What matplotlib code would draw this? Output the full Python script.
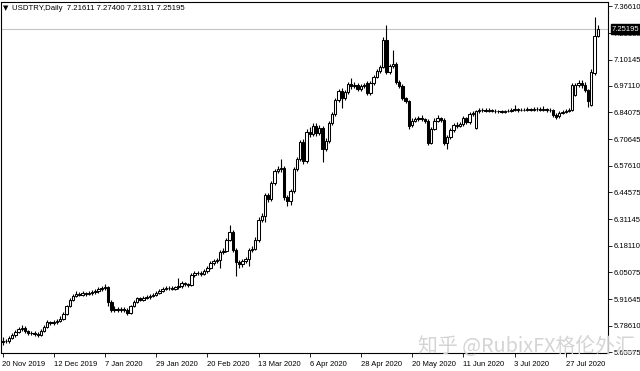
import matplotlib
matplotlib.use('Agg')
import matplotlib.pyplot as plt
import matplotlib.transforms as mtransforms
import numpy as np

plt.rcParams['font.family'] = ['Liberation Sans', 'DejaVu Sans']

title = 'USDTRY,Daily  7.21611 7.27400 7.21311 7.25195'
last_price = 7.25195

# daily OHLC, 20 Nov 2019 .. 10 Aug 2020
opens = [5.705, 5.712, 5.708, 5.726, 5.738, 5.755, 5.768, 5.776, 5.760, 5.752,
         5.748, 5.746, 5.742, 5.762, 5.780, 5.802, 5.798, 5.803, 5.810, 5.820,
         5.845, 5.882, 5.915, 5.934, 5.945, 5.940, 5.946, 5.942, 5.948, 5.951,
         5.956, 5.965, 5.970, 5.976, 5.905, 5.866, 5.870, 5.862, 5.870, 5.866,
         5.850, 5.882, 5.905, 5.921, 5.914, 5.922, 5.926, 5.933, 5.940, 5.948,
         5.958, 5.966, 5.970, 5.973, 5.968, 5.975, 5.980, 5.998, 5.992, 5.988,
         6.035, 6.045, 6.048, 6.042, 6.055, 6.072, 6.095, 6.105, 6.110, 6.150,
         6.156, 6.210, 6.250, 6.160, 6.100, 6.090, 6.105, 6.115, 6.160, 6.165,
         6.210, 6.310, 6.330, 6.430, 6.410, 6.490, 6.550, 6.560, 6.565, 6.420,
         6.400, 6.450, 6.560, 6.610, 6.695, 6.600, 6.745, 6.735, 6.775, 6.740,
         6.765, 6.660, 6.700, 6.790, 6.830, 6.900, 6.948, 6.912, 6.940, 6.980,
         6.970, 6.978, 6.955, 6.970, 6.988, 6.935, 6.985, 7.015, 7.045, 7.065,
         7.200, 7.040, 7.068, 7.080, 6.990, 6.972, 6.910, 6.895, 6.780, 6.800,
         6.806, 6.812, 6.808, 6.800, 6.690, 6.760, 6.800, 6.812, 6.805, 6.690,
         6.720, 6.752, 6.780, 6.775, 6.782, 6.812, 6.792, 6.830, 6.765, 6.845,
         6.850, 6.852, 6.848, 6.850, 6.847, 6.845, 6.846, 6.844, 6.846, 6.848,
         6.852, 6.855, 6.852, 6.854, 6.853, 6.856, 6.853, 6.855, 6.857, 6.854,
         6.856, 6.852, 6.850, 6.828, 6.822, 6.838, 6.842, 6.846, 6.852, 6.928,
         6.975, 6.988, 6.975, 6.950, 6.878, 7.035, 7.21611]
highs = [5.728, 5.722, 5.735, 5.748, 5.765, 5.778, 5.790, 5.782, 5.766, 5.760,
         5.758, 5.755, 5.770, 5.790, 5.812, 5.810, 5.814, 5.820, 5.832, 5.852,
         5.890, 5.925, 5.945, 5.955, 5.952, 5.956, 5.953, 5.958, 5.960, 5.966,
         5.975, 5.980, 5.990, 5.982, 5.912, 5.882, 5.876, 5.880, 5.878, 5.872,
         5.888, 5.912, 5.930, 5.928, 5.932, 5.936, 5.942, 5.950, 5.958, 5.966,
         5.975, 5.980, 5.982, 5.980, 5.984, 6.020, 6.008, 6.004, 5.998, 6.045,
         6.055, 6.058, 6.055, 6.065, 6.080, 6.104, 6.116, 6.122, 6.158, 6.168,
         6.218, 6.285, 6.258, 6.168, 6.110, 6.115, 6.128, 6.168, 6.178, 6.222,
         6.322, 6.345, 6.440, 6.440, 6.500, 6.560, 6.575, 6.610, 6.575, 6.432,
         6.462, 6.572, 6.622, 6.705, 6.710, 6.760, 6.770, 6.790, 6.790, 6.778,
         6.775, 6.712, 6.800, 6.842, 6.912, 6.958, 6.960, 6.952, 6.992, 7.010,
         6.992, 6.988, 6.982, 6.988, 6.995, 6.995, 7.025, 7.055, 7.075, 7.215,
         7.270, 7.080, 7.150, 7.088, 6.998, 6.980, 6.918, 6.900, 6.812, 6.818,
         6.822, 6.825, 6.815, 6.808, 6.770, 6.815, 6.825, 6.820, 6.812, 6.730,
         6.762, 6.790, 6.792, 6.795, 6.822, 6.818, 6.840, 6.846, 6.852, 6.860,
         6.862, 6.860, 6.860, 6.856, 6.855, 6.854, 6.852, 6.854, 6.858, 6.862,
         6.878, 6.864, 6.864, 6.862, 6.866, 6.864, 6.865, 6.866, 6.865, 6.870,
         6.862, 6.860, 6.856, 6.838, 6.845, 6.850, 6.855, 6.860, 6.985, 6.988,
         7.002, 6.998, 6.992, 6.958, 7.055, 7.310, 7.27400]
lows = [5.690, 5.698, 5.702, 5.718, 5.730, 5.748, 5.758, 5.752, 5.742, 5.738,
        5.735, 5.732, 5.736, 5.755, 5.774, 5.788, 5.790, 5.796, 5.804, 5.812,
        5.838, 5.876, 5.908, 5.926, 5.932, 5.934, 5.934, 5.936, 5.940, 5.944,
        5.948, 5.958, 5.962, 5.885, 5.852, 5.855, 5.852, 5.854, 5.856, 5.840,
        5.845, 5.876, 5.898, 5.906, 5.908, 5.916, 5.920, 5.926, 5.934, 5.942,
        5.952, 5.960, 5.962, 5.960, 5.962, 5.968, 5.972, 5.984, 5.978, 5.982,
        6.028, 6.038, 6.034, 6.036, 6.048, 6.066, 6.088, 6.098, 6.070, 6.142,
        6.150, 6.204, 6.150, 6.030, 6.070, 6.075, 6.098, 6.080, 6.150, 6.158,
        6.200, 6.300, 6.300, 6.395, 6.400, 6.480, 6.540, 6.548, 6.405, 6.380,
        6.385, 6.440, 6.550, 6.600, 6.585, 6.590, 6.720, 6.725, 6.725, 6.730,
        6.595, 6.650, 6.690, 6.780, 6.822, 6.890, 6.860, 6.900, 6.930, 6.955,
        6.960, 6.945, 6.945, 6.962, 6.925, 6.925, 6.978, 7.008, 7.035, 7.058,
        7.030, 7.030, 7.058, 6.980, 6.962, 6.900, 6.885, 6.760, 6.770, 6.795,
        6.798, 6.798, 6.790, 6.680, 6.682, 6.752, 6.795, 6.795, 6.680, 6.660,
        6.710, 6.745, 6.765, 6.768, 6.775, 6.785, 6.785, 6.822, 6.758, 6.838,
        6.842, 6.840, 6.842, 6.840, 6.838, 6.838, 6.836, 6.838, 6.840, 6.844,
        6.846, 6.844, 6.846, 6.846, 6.848, 6.846, 6.846, 6.848, 6.846, 6.848,
        6.844, 6.842, 6.818, 6.810, 6.815, 6.830, 6.835, 6.840, 6.845, 6.920,
        6.965, 6.962, 6.942, 6.865, 6.870, 7.025, 7.21311]
closes = [5.712, 5.708, 5.726, 5.738, 5.755, 5.768, 5.776, 5.760, 5.752, 5.748,
          5.746, 5.742, 5.762, 5.780, 5.802, 5.798, 5.803, 5.810, 5.820, 5.845,
          5.882, 5.915, 5.934, 5.945, 5.940, 5.946, 5.942, 5.948, 5.951, 5.956,
          5.965, 5.970, 5.976, 5.905, 5.866, 5.870, 5.862, 5.870, 5.866, 5.850,
          5.882, 5.905, 5.921, 5.914, 5.922, 5.926, 5.933, 5.940, 5.948, 5.958,
          5.966, 5.970, 5.973, 5.968, 5.975, 5.980, 5.998, 5.992, 5.988, 6.035,
          6.045, 6.048, 6.042, 6.055, 6.072, 6.095, 6.105, 6.110, 6.150, 6.156,
          6.210, 6.250, 6.160, 6.100, 6.090, 6.105, 6.115, 6.160, 6.165, 6.210,
          6.310, 6.330, 6.430, 6.410, 6.490, 6.550, 6.560, 6.565, 6.420, 6.400,
          6.450, 6.560, 6.610, 6.695, 6.600, 6.745, 6.735, 6.775, 6.740, 6.765,
          6.660, 6.700, 6.790, 6.830, 6.900, 6.948, 6.912, 6.940, 6.980, 6.970,
          6.978, 6.955, 6.970, 6.976, 6.935, 6.985, 7.015, 7.045, 7.065, 7.200,
          7.040, 7.068, 7.080, 6.990, 6.972, 6.910, 6.895, 6.775, 6.800, 6.806,
          6.812, 6.808, 6.800, 6.690, 6.760, 6.800, 6.812, 6.805, 6.690, 6.720,
          6.752, 6.780, 6.775, 6.782, 6.812, 6.792, 6.830, 6.836, 6.845, 6.850,
          6.852, 6.848, 6.850, 6.847, 6.845, 6.846, 6.844, 6.846, 6.848, 6.852,
          6.855, 6.852, 6.854, 6.853, 6.856, 6.853, 6.855, 6.857, 6.854, 6.856,
          6.852, 6.850, 6.828, 6.820, 6.838, 6.842, 6.846, 6.852, 6.975, 6.975,
          6.988, 6.975, 6.950, 6.895, 7.040, 7.216, 7.25195]

date_labels = ['20 Nov 2019', '12 Dec 2019', '7 Jan 2020', '29 Jan 2020',
               '20 Feb 2020', '13 Mar 2020', '6 Apr 2020', '28 Apr 2020',
               '20 May 2020', '11 Jun 2020', '3 Jul 2020', '27 Jul 2020']
price_ticks = [7.36610, 7.23180, 7.10145, 6.97110, 6.84075, 6.70645, 6.57610,
               6.44575, 6.31145, 6.18110, 6.05075, 5.91645, 5.78610, 5.65575]

W, H = 640, 371
fig = plt.figure(figsize=(W / 100, H / 100), dpi=100)
ax = fig.add_axes([0.5 / W, 18 / H, 607 / W, 351 / H])

x = np.arange(len(closes))
o = np.array(opens)
c = np.array(closes)
up = c >= o
body_lo = np.minimum(o, c)
body_h = np.maximum(np.abs(c - o), 0.0015)

ax.axhline(last_price, color='#c4c4c4', lw=0.8, zorder=1)
ax.vlines(x, lows, highs, color='black', lw=0.8, zorder=2)
ax.bar(x[up], body_h[up], bottom=body_lo[up], width=0.75,
       facecolor='white', edgecolor='black', linewidth=0.75, zorder=3)
ax.bar(x[~up], body_h[~up], bottom=body_lo[~up], width=0.75,
       facecolor='black', edgecolor='black', linewidth=0.75, zorder=3)

ax.set_xlim(-0.625, -0.625 + 607 / 3.2)
ax.set_ylim(5.651, 7.386)

ax.yaxis.tick_right()
ax.set_yticks(price_ticks)
ax.set_yticklabels(['%.5f' % p for p in price_ticks])
ax.set_xticks(x[::16])
ax.set_xticklabels(date_labels)
shift = mtransforms.ScaledTranslation(-2 / 100, 0, fig.dpi_scale_trans)
for lab in ax.get_xticklabels():
    lab.set_ha('left')
    lab.set_transform(lab.get_transform() + shift)
ax.tick_params(axis='both', labelsize=5.5, length=3, width=0.6, color='black', pad=1.5)
ax.tick_params(axis='x', pad=3)
for s in ax.spines.values():
    s.set_linewidth(0.8)

# current price marker on the scale
ax.annotate('%.5f' % last_price, xy=(1.0, last_price), xycoords=('axes fraction', 'data'),
            xytext=(3.3, 0), textcoords='offset points', ha='left', va='center',
            fontsize=5.5, color='white', annotation_clip=False, zorder=10,
            bbox=dict(boxstyle='square,pad=0.2', fc='black', ec='black'))

fig.text(3 / W, 1 - 8 / H, '\u25bc', fontsize=5, va='center', ha='left',
         family=['DejaVu Sans'])
fig.text(12 / W, 1 - 8 / H, title, fontsize=5.6, va='center', ha='left')

fig.text(418 / W, 1 - 346 / H, '知乎 @RubixFX格伦外汇', fontsize=14.3, color='#d4d4d4',
         va='center', ha='left', family=['Noto Sans CJK SC', 'DejaVu Sans'], zorder=20)

fig.savefig('out.png', dpi=100)
